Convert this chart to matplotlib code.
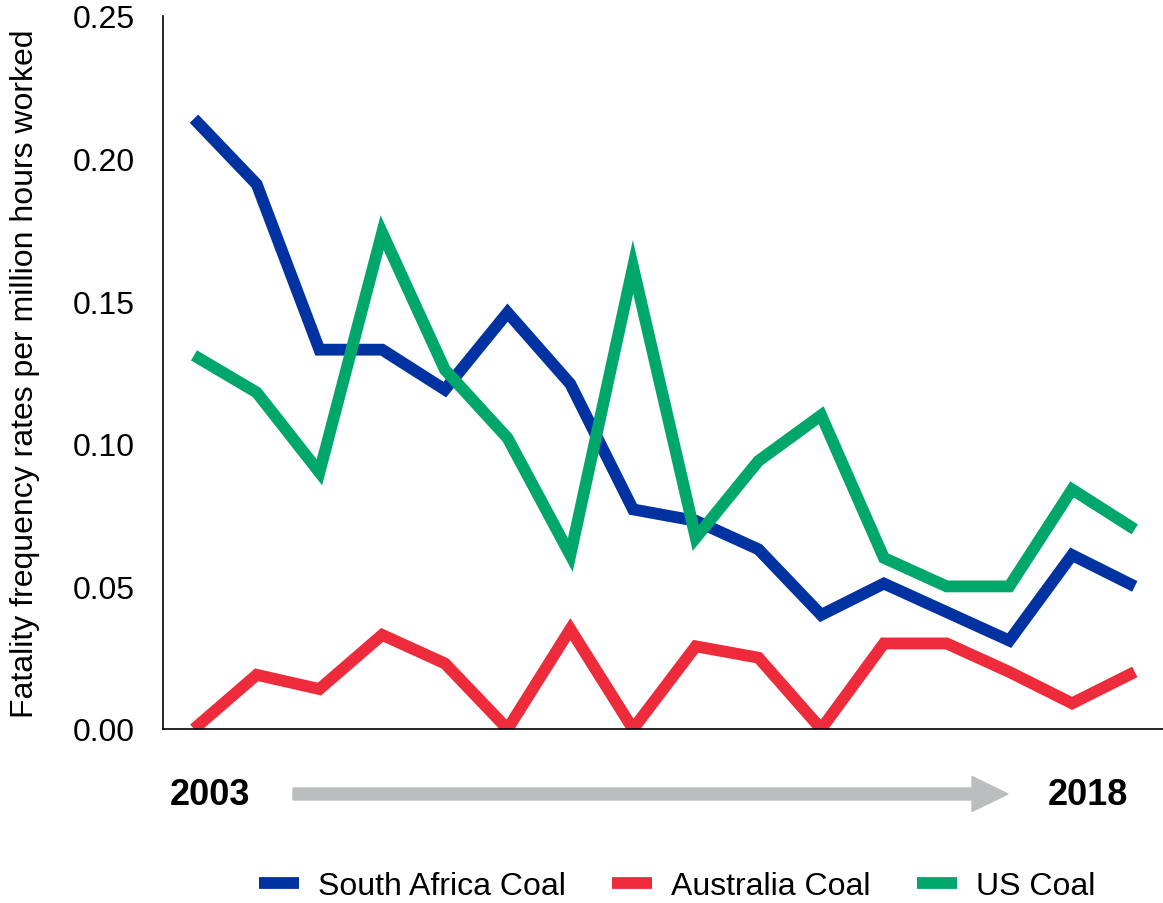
import matplotlib
matplotlib.use("Agg")
import matplotlib.pyplot as plt
from matplotlib.patches import FancyArrow

plt.rcParams['font.family'] = ['Liberation Sans', 'DejaVu Sans']

years = list(range(2003, 2019))
south_africa = [0.214, 0.191, 0.133, 0.133, 0.119, 0.146, 0.121, 0.077, 0.073, 0.063,
                0.040, 0.051, 0.041, 0.031, 0.061, 0.050]
australia = [0.000, 0.019, 0.014, 0.033, 0.023, 0.000, 0.035, 0.000, 0.029, 0.025,
             0.000, 0.030, 0.030, 0.020, 0.009, 0.020]
us = [0.131, 0.118, 0.090, 0.174, 0.126, 0.102, 0.061, 0.162, 0.067, 0.094,
      0.110, 0.060, 0.050, 0.050, 0.084, 0.070]
series_names = ["South Africa Coal", "Australia Coal", "US Coal"]
colors = ["#0033A1", "#EE2B3B", "#00A76A"]
yticks = [0.00, 0.05, 0.10, 0.15, 0.20, 0.25]

W, H = 1163, 904
fig = plt.figure(figsize=(W / 100, H / 100), dpi=100)
ax = fig.add_axes([163 / W, (H - 730) / H, 1 - 163 / W, (730 - 17) / H])

x = list(range(len(years)))
for vals, name, c in zip([south_africa, australia, us], series_names, colors):
    ax.plot(x, vals, color=c, lw=8.5, label=name, solid_joinstyle='miter',
            solid_capstyle='butt')

ax.set_xlim(-0.494, 15.45)
ax.set_ylim(0, 0.25)
ax.set_yticks(yticks)
ax.set_yticklabels([f"{v:.2f}" for v in yticks], fontsize=23)
ax.set_xticks([])
ax.tick_params(axis='y', length=0, pad=20)
for s in ['top', 'right']:
    ax.spines[s].set_visible(False)
for s in ['left', 'bottom']:
    ax.spines[s].set_linewidth(1.2)
ax.set_ylabel("Fatality frequency rates per million hours worked", fontsize=23)
ax.yaxis.set_label_coords(-(163 - 40) / (W - 163), 0.5)

# year labels and arrow
fig.text(210 / W, 1 - 796 / H, str(years[0]), fontsize=26, fontweight='bold',
         ha='center', va='center')
fig.text(1088 / W, 1 - 796 / H, str(years[-1]), fontsize=26, fontweight='bold',
         ha='center', va='center')
arrow = FancyArrow(293, H - 795, 715, 0, width=12, head_width=35, head_length=36,
                   length_includes_head=True, color="#BBBDBF", transform=None)
fig.patches.append(arrow)

handles, labels = ax.get_legend_handles_labels()
fig.legend(handles, labels, loc='center', bbox_to_anchor=(677 / W, 1 - 887 / H), ncol=3,
           frameon=False, fontsize=23, handlelength=1.25, handletextpad=0.6,
           columnspacing=1.45)

fig.savefig("out.png", dpi=100)
